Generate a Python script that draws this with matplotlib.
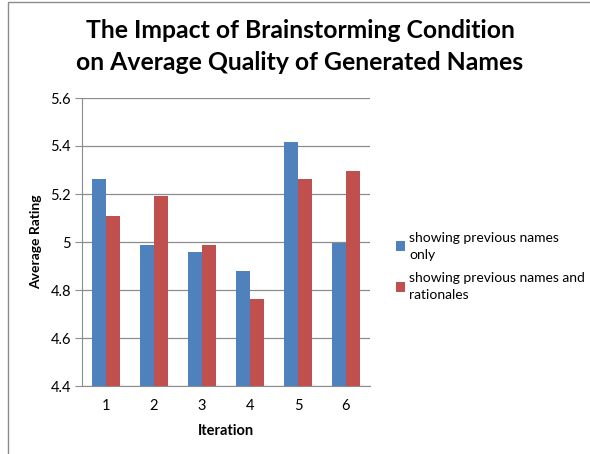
import matplotlib
matplotlib.use("Agg")
import matplotlib.pyplot as plt
import numpy as np
from matplotlib.patches import Rectangle

plt.rcParams['font.family'] = ['Lato', 'DejaVu Sans']

iterations = ['1', '2', '3', '4', '5', '6']
names_only = [5.261, 4.988, 4.958, 4.880, 5.418, 4.995]
names_rationales = [5.107, 5.193, 4.988, 4.761, 5.261, 5.296]
series_labels = ['showing previous names\nonly', 'showing previous names and\nrationales']
y_ticks = [4.4, 4.6, 4.8, 5.0, 5.2, 5.4, 5.6]
y_tick_labels = ['4.4', '4.6', '4.8', '5', '5.2', '5.4', '5.6']

blue = '#4F81BD'
red = '#C0504D'

W, H = 590, 454
fig = plt.figure(figsize=(W / 100, H / 100), dpi=100)
ax = fig.add_axes([82 / W, 1 - 386 / H, 288 / W, 288 / H])

x = np.arange(len(iterations))
bw = 0.285
ax.bar(x - bw / 2, names_only, bw, color=blue, label=series_labels[0], zorder=3)
ax.bar(x + bw / 2, names_rationales, bw, color=red, label=series_labels[1], zorder=3)

ax.set_xlim(-0.5, len(iterations) - 0.5)
ax.set_ylim(4.4, 5.6)
ax.set_yticks(y_ticks)
ax.set_yticklabels(y_tick_labels)
ax.set_xticks(x)
ax.set_xticklabels(iterations)
ax.yaxis.grid(True, color='#8c8c8c', linewidth=0.9, zorder=0)

for s in ['top', 'right']:
    ax.spines[s].set_visible(False)
ax.spines['left'].set_color('#8c8c8c')
ax.spines['bottom'].set_color('#8c8c8c')
ax.tick_params(axis='y', length=5, color='#8c8c8c', labelsize=10.5, pad=3)
ax.tick_params(axis='x', length=0, labelsize=10.5, pad=9)

ax.set_ylabel('Average Rating', fontsize=10, fontweight='bold', labelpad=6)
ax.set_xlabel('Iteration', fontsize=10.5, fontweight='bold', labelpad=8)

fig.text(300 / W, 1 - 30 / H, 'The Impact of Brainstorming Condition', ha='center', va='center',
         fontsize=17.8, fontweight='bold')
fig.text(300 / W, 1 - 62 / H, 'on Average Quality of Generated Names', ha='center', va='center',
         fontsize=17.8, fontweight='bold')

leg = fig.legend(loc='upper left', bbox_to_anchor=(390 / W, 1 - 226 / H), frameon=False,
                 fontsize=10, handlelength=0.7, handleheight=0.7, handletextpad=0.3,
                 labelspacing=0.85, borderaxespad=0)
for t in leg.get_texts():
    t.set_linespacing(1.5)

# chart border
fig.patches.append(Rectangle((8 / W, -0.1), 1.2, 1 - 2 / H + 0.1, transform=fig.transFigure,
                             fill=False, edgecolor='#8c8c8c', linewidth=1.0))

fig.savefig('out.png', dpi=100)
